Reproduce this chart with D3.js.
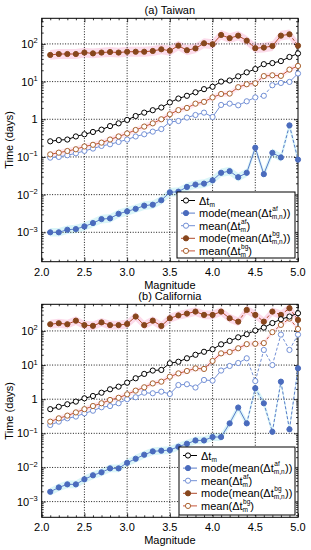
<!DOCTYPE html>
<html>
<head>
<meta charset="utf-8">
<script src="https://cdn.jsdelivr.net/npm/d3@7"></script>
<style>
  body { margin: 0; background: #fff; }
  svg { display: block; font-family: "Liberation Sans", Arial, sans-serif; }
</style>
</head>
<body>
<svg id="chart" width="311" height="550"></svg>
<script>
// Magnitude bins
const magnitudes = [2.1, 2.2, 2.3, 2.4, 2.5, 2.6, 2.7, 2.8, 2.9, 3.0,
                    3.1, 3.2, 3.3, 3.4, 3.5, 3.6, 3.7, 3.8, 3.9, 4.0,
                    4.1, 4.2, 4.3, 4.4, 4.5, 4.6, 4.7, 4.8, 4.9, 5.0];
const xTicks = [2.0, 2.5, 3.0, 3.5, 4.0, 4.5, 5.0];

// (a) Taiwan
const twDt     = [0.26, 0.28, 0.29, 0.35, 0.40, 0.46, 0.53, 0.66, 0.78, 0.96,
                  1.22, 1.5, 1.74, 2.05, 2.8, 3.55, 4.2, 5.2, 6.3, 7.3,
                  10, 10.7, 13.8, 17.6, 21.5, 29, 31, 35, 45, 56];
const twModeAf = [0.001, 0.001, 0.00117, 0.00122, 0.00143, 0.00176, 0.00224, 0.00234, 0.0031, 0.0036,
                  0.0042, 0.0051, 0.0054, 0.0071, 0.0115, 0.012, 0.016, 0.0185, 0.0196, 0.024,
                  0.038, 0.042, 0.029, 0.038, 0.176, 0.035, 0.129, 0.097, 0.69, 0.085];
const twMeanAf = [0.096, 0.10, 0.111, 0.125, 0.145, 0.167, 0.196, 0.217, 0.25, 0.29,
                  0.35, 0.40, 0.47, 0.55, 0.85, 0.90, 1.11, 1.3, 1.5, 1.15,
                  2.4, 2.6, 2.35, 3.0, 3.8, 4.2, 8.0, 9.2, 9.8, 16.4];
const twModeBg = [51, 54, 54, 54, 59, 56, 59, 61, 59, 62,
                  62, 62, 65, 72, 66, 90, 68, 76, 104, 98,
                  173, 142, 166, 122, 77, 80, 88, 166, 180, 90];
const twMeanBg = [0.117, 0.13, 0.144, 0.16, 0.19, 0.21, 0.24, 0.29, 0.35, 0.42,
                  0.52, 0.64, 0.78, 1.0, 1.36, 1.75, 2.0, 2.6, 2.9, 3.8,
                  4.7, 4.8, 7.1, 8.5, 9.0, 14, 14.7, 14.2, 20.8, 26];

// (b) California
const caDt     = [0.51, 0.60, 0.71, 0.85, 1.06, 1.24, 1.55, 1.95, 2.33, 3.05,
                  4.1, 5.5, 6.9, 7.2, 11.3, 12.5, 15.8, 20, 24.5, 29,
                  40.5, 51, 65, 80, 103, 125, 170, 220, 264, 330];
const caModeAf = [0.00194, 0.0026, 0.0032, 0.0032, 0.0045, 0.0059, 0.0072, 0.0094, 0.0094, 0.0137,
                  0.018, 0.0236, 0.0296, 0.031, 0.0324, 0.0405, 0.0495, 0.062, 0.062, 0.078,
                  0.078, 0.196, 0.57, 0.196, 2.1, 0.76, 0.111, 3.26, 0.131, 8.05];
const caMeanAf = [0.175, 0.22, 0.275, 0.31, 0.386, 0.46, 0.58, 0.63, 0.76, 1.0,
                  1.14, 1.55, 1.49, 1.66, 1.42, 2.6, 2.74, 2.2, 3.66, 3.5,
                  6.9, 9.4, 11.5, 15.8, 3.4, 27.7, 10, 78, 27.7, 78];
const caModeBg = [157, 168, 157, 200, 148, 141, 178, 148, 148, 160,
                  264, 148, 200, 140, 234, 285, 322, 368, 295, 295,
                  368, 235, 187, 413, 295, 187, 368, 295, 463, 210];
const caMeanBg = [0.22, 0.275, 0.33, 0.41, 0.51, 0.63, 0.76, 0.95, 1.1, 1.39,
                  1.78, 2.23, 2.9, 3.26, 4.57, 5.7, 6.7, 8.0, 7.7, 13.2,
                  22, 24, 31, 41, 42, 44, 92, 150, 230, 114];

// magnitudes where the segment to the next bin is dashed
const twDashedModeAf = [4.8, 4.9];
const twDashedMeanAf = [4.5, 4.6];
const twDashedModeBg = [4.9];
const twDashedMeanBg = [4.5];
const caDashedModeAf = [4.4, 4.5, 4.6, 4.7, 4.8, 4.9];
const caDashedMeanAf = [4.4, 4.5, 4.6, 4.7, 4.8, 4.9];
const caDashedModeBg = [4.3, 4.4, 4.5, 4.6, 4.7, 4.8, 4.9];
const caDashedMeanBg = [4.4, 4.5, 4.6, 4.7, 4.8, 4.9];

const styles = {
  dt:     { line: '#000000', stroke: '#000000', fill: '#ffffff' },
  modeAf: { line: '#5a7cc9', stroke: '#4a6bbd', fill: '#4a6bbd', band: '#cdf1f6', spread: 1.3 },
  meanAf: { line: '#7390d6', stroke: '#7390d6', fill: '#ffffff' },
  modeBg: { line: '#b04a2c', stroke: '#87461c', fill: '#87461c', band: '#fbcfe3', spread: 1.35 },
  meanBg: { line: '#c8553a', stroke: '#a9622f', fill: '#ffffff', band: '#fde3ee', spread: 1.2 }
};

const legendItems = [
  { key: 'dt',     parts: [['Δt'], ['', 'm']] },
  { key: 'modeAf', parts: [['mode(mean(Δt'], ['af', 'm,n'], ['))']] },
  { key: 'meanAf', parts: [['mean(Δt'], ['af', 'm'], [')']] },
  { key: 'modeBg', parts: [['mode(mean(Δt'], ['bg', 'm,n'], ['))']] },
  { key: 'meanBg', parts: [['mean(Δt'], ['bg', 'm'], [')']] }
];

const svg = d3.select('#chart');
const left = 41.7, right = 298;

function drawPanel(p) {
  const x = d3.scaleLinear().domain([2.0, 5.0]).range([left, right]);
  const y = d3.scaleLog().domain([Math.pow(10, p.logMin), Math.pow(10, p.logMax)]).range([p.bottom, p.top]);
  const g = svg.append('g');

  const yMajor = d3.range(Math.ceil(p.logMin), Math.floor(p.logMax) + 1).map(e => Math.pow(10, e));
  const yMinor = [];
  d3.range(Math.floor(p.logMin), Math.ceil(p.logMax)).forEach(e => {
    for (let k = 2; k <= 9; k++) {
      const v = k * Math.pow(10, e);
      if (v >= y.domain()[0] && v <= y.domain()[1]) yMinor.push(v);
    }
  });
  const xMinor = d3.range(20, 51).map(d => d / 10).filter(d => xTicks.indexOf(d) < 0);

  // shaded spread around some series
  p.series.forEach(s => {
    const st = styles[s.key];
    if (!st.band) return;
    const area = d3.area()
      .x((d, i) => x(magnitudes[i]))
      .y0(d => y(d / st.spread))
      .y1(d => y(d * st.spread));
    g.append('path').datum(s.values)
      .attr('d', area).attr('fill', st.band).attr('opacity', 0.75);
  });

  // grid
  g.append('g').selectAll('line').data(xTicks.slice(1, -1)).join('line')
    .attr('x1', d => x(d)).attr('x2', d => x(d))
    .attr('y1', p.top).attr('y2', p.bottom)
    .attr('stroke', '#000').attr('stroke-width', 0.9).attr('stroke-dasharray', '1,1.6');
  g.append('g').selectAll('line').data(yMajor).join('line')
    .attr('x1', left).attr('x2', right)
    .attr('y1', d => y(d)).attr('y2', d => y(d))
    .attr('stroke', '#000').attr('stroke-width', 0.9).attr('stroke-dasharray', '1,1.6');

  // axes with inward ticks on all sides
  const axes = [
    [d3.axisBottom(x).tickValues(xTicks).tickSize(-4), `translate(0,${p.bottom})`],
    [d3.axisBottom(x).tickValues(xMinor).tickSize(-2), `translate(0,${p.bottom})`],
    [d3.axisTop(x).tickValues(xTicks).tickSize(-4), `translate(0,${p.top})`],
    [d3.axisTop(x).tickValues(xMinor).tickSize(-2), `translate(0,${p.top})`],
    [d3.axisLeft(y).tickValues(yMajor).tickSize(-4), `translate(${left},0)`],
    [d3.axisLeft(y).tickValues(yMinor).tickSize(-2), `translate(${left},0)`],
    [d3.axisRight(y).tickValues(yMajor).tickSize(-4), `translate(${right},0)`],
    [d3.axisRight(y).tickValues(yMinor).tickSize(-2), `translate(${right},0)`]
  ];
  axes.forEach(([ax, tr]) => {
    const a = g.append('g').attr('transform', tr).call(ax.tickFormat(''));
    a.select('.domain').remove();
    a.selectAll('line').attr('stroke', '#000').attr('stroke-width', 0.8);
  });
  g.append('rect')
    .attr('x', left).attr('y', p.top)
    .attr('width', right - left).attr('height', p.bottom - p.top)
    .attr('fill', 'none').attr('stroke', '#000').attr('stroke-width', 1);

  // x tick labels
  g.selectAll('.xlab').data(xTicks).join('text')
    .attr('x', d => x(d)).attr('y', p.bottom + 14)
    .attr('text-anchor', 'middle').attr('font-size', 11)
    .text(d => d.toFixed(1));

  // y tick labels
  yMajor.forEach(v => {
    const e = Math.round(Math.log10(v));
    const t = g.append('text')
      .attr('x', left - 4).attr('y', y(v) + 4)
      .attr('text-anchor', 'end').attr('font-size', 11);
    if (e === 0) { t.text('1'); return; }
    t.append('tspan').text('10');
    t.append('tspan').attr('font-size', 7.5).attr('dy', -4.5)
      .text(e < 0 ? '\u2212' + (-e) : String(e));
  });

  g.append('text')
    .attr('x', (left + right) / 2).attr('y', p.top - 4)
    .attr('text-anchor', 'middle').attr('font-size', 11).text(p.title);
  g.append('text')
    .attr('x', (left + right) / 2).attr('y', p.bottom + 27)
    .attr('text-anchor', 'middle').attr('font-size', 11).text('Magnitude');
  g.append('text')
    .attr('transform', `translate(13,${(p.top + p.bottom) / 2}) rotate(-90)`)
    .attr('text-anchor', 'middle').attr('font-size', 11).text('Time (days)');

  // series
  p.series.forEach(s => {
    const st = styles[s.key];
    const dashed = s.dashed || [];
    const segs = d3.range(magnitudes.length - 1);
    g.append('g').selectAll('line').data(segs).join('line')
      .attr('x1', i => x(magnitudes[i])).attr('x2', i => x(magnitudes[i + 1]))
      .attr('y1', i => y(s.values[i])).attr('y2', i => y(s.values[i + 1]))
      .attr('stroke', st.line).attr('stroke-width', 1)
      .attr('stroke-dasharray', i => dashed.some(m => Math.abs(m - magnitudes[i]) < 1e-6) ? '3,2' : null);
    g.append('g').selectAll('circle').data(s.values).join('circle')
      .attr('cx', (d, i) => x(magnitudes[i])).attr('cy', d => y(d))
      .attr('r', 2.6)
      .attr('fill', st.fill).attr('stroke', st.stroke).attr('stroke-width', 1);
  });

  // legend
  const lb = p.legend;
  g.append('rect')
    .attr('x', lb.x).attr('y', lb.y).attr('width', lb.w).attr('height', lb.h)
    .attr('fill', '#fff').attr('stroke', '#000').attr('stroke-width', 1);
  legendItems.forEach((item, i) => {
    const st = styles[item.key];
    const cy = lb.y + 8.5 + i * 12.6;
    g.append('line')
      .attr('x1', lb.x + 4).attr('x2', lb.x + 18).attr('y1', cy).attr('y2', cy)
      .attr('stroke', st.line).attr('stroke-width', 1);
    g.append('circle')
      .attr('cx', lb.x + 9).attr('cy', cy).attr('r', 2.6)
      .attr('fill', st.fill).attr('stroke', st.stroke).attr('stroke-width', 1);
    let tx = lb.x + 22;
    item.parts.forEach(part => {
      if (part.length === 1) {
        const t = g.append('text').attr('x', tx).attr('y', cy + 4)
          .attr('font-size', 11).text(part[0]);
        tx += t.node().getComputedTextLength();
      } else {
        let w = 0;
        if (part[0]) {
          const sup = g.append('text').attr('x', tx + 0.5).attr('y', cy - 2.2)
            .attr('font-size', 6.5).text(part[0]);
          w = Math.max(w, sup.node().getComputedTextLength());
        }
        const sub = g.append('text').attr('x', tx).attr('y', cy + 6)
          .attr('font-size', 6.5).text(part[1]);
        w = Math.max(w, sub.node().getComputedTextLength());
        tx += w + 0.5;
      }
    });
  });
}

drawPanel({
  title: '(a) Taiwan', top: 18.3, bottom: 261.7, logMin: -3.78, logMax: 2.68,
  legend: { x: 177, y: 192, w: 118, h: 66 },
  series: [
    { key: 'meanAf', values: twMeanAf, dashed: twDashedMeanAf },
    { key: 'modeAf', values: twModeAf, dashed: twDashedModeAf },
    { key: 'meanBg', values: twMeanBg, dashed: twDashedMeanBg },
    { key: 'modeBg', values: twModeBg, dashed: twDashedModeBg },
    { key: 'dt', values: twDt }
  ]
});

drawPanel({
  title: '(b) California', top: 304.3, bottom: 517.3, logMin: -3.46, logMax: 2.78,
  legend: { x: 179, y: 447, w: 116, h: 68 },
  series: [
    { key: 'meanAf', values: caMeanAf, dashed: caDashedMeanAf },
    { key: 'modeAf', values: caModeAf, dashed: caDashedModeAf },
    { key: 'meanBg', values: caMeanBg, dashed: caDashedMeanBg },
    { key: 'modeBg', values: caModeBg, dashed: caDashedModeBg },
    { key: 'dt', values: caDt }
  ]
});
</script>
</body>
</html>
